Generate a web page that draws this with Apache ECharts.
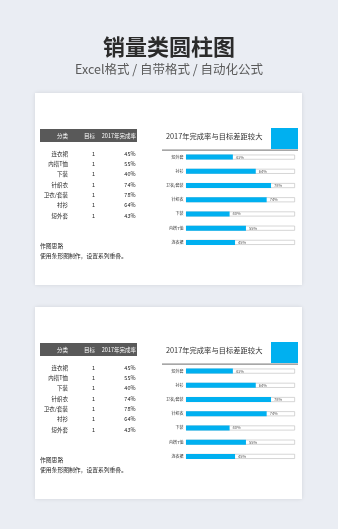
<!DOCTYPE html>
<html><head><meta charset="utf-8">
<script src="https://cdn.jsdelivr.net/npm/echarts@6/dist/echarts.min.js"></script>
<style>html,body{margin:0;padding:0;background:#eaedf3}#c{width:338px;height:529px}</style>
</head><body><div id="c"></div>
<script>
var mainTitle = '销量类圆柱图';
var subTitle = 'Excel格式 / 自带格式 / 自动化公式';
var chartTitle = '2017年完成率与目标差距较大';
var headers = ['分类', '目标', '2017年完成率'];
var categories = ['连衣裙', '内搭T恤', '下装', '针织衣', '卫衣/套装', '衬衫', '短外套'];
var targets = [1, 1, 1, 1, 1, 1, 1];
var rates = [0.45, 0.55, 0.40, 0.74, 0.78, 0.64, 0.43];
var noteTitle = '作图思路';
var noteText = '使用条形图制作，设置系列重叠。';

var FONT = '"Noto Sans CJK SC", "Noto Sans", sans-serif';
var BLUE = '#00b0f0';
var panelOffsets = [0, 214];

var graphics = [
  {type:'text', z:1, style:{text:mainTitle, x:169, y:47, textAlign:'center', textVerticalAlign:'middle', fill:'#2b2b2b', font:'bold 22px ' + FONT}},
  {type:'text', z:1, style:{text:subTitle, x:169, y:69.5, textAlign:'center', textVerticalAlign:'middle', fill:'#5a5a5a', font:'12.5px ' + FONT}}
];
var grids = [], xAxes = [], yAxes = [], series = [];

panelOffsets.forEach(function (dy, k) {
  graphics.push({type:'rect', z:0, shape:{x:35, y:93 + dy, width:267, height:192},
    style:{fill:'#ffffff', shadowBlur:4, shadowColor:'rgba(0,0,0,0.10)'}});
  // table header
  graphics.push({type:'rect', z:1, shape:{x:40, y:129 + dy, width:97, height:13}, style:{fill:'#595959'}});
  var hx = [68, 89.5, 136], ha = ['right', 'center', 'right'];
  headers.forEach(function (h, i) {
    graphics.push({type:'text', z:2, style:{text:h, x:hx[i], y:135.5 + dy, textAlign:ha[i], textVerticalAlign:'middle', fill:'#ffffff', font:'5.5px ' + FONT}});
  });
  categories.forEach(function (c, i) {
    var y = 153.5 + i * 10.35 + dy;
    graphics.push({type:'text', z:2, style:{text:c, x:68, y:y, textAlign:'right', textVerticalAlign:'middle', fill:'#222', font:'5.5px ' + FONT}});
    graphics.push({type:'text', z:2, style:{text:String(targets[i]), x:93.5, y:y, textAlign:'center', textVerticalAlign:'middle', fill:'#222', font:'5.5px ' + FONT}});
    graphics.push({type:'text', z:2, style:{text:Math.round(rates[i] * 100) + '%', x:135.5, y:y, textAlign:'right', textVerticalAlign:'middle', fill:'#222', font:'5.5px ' + FONT}});
  });
  graphics.push({type:'text', z:2, style:{text:noteTitle, x:40, y:246 + dy, textAlign:'left', textVerticalAlign:'middle', fill:'#222', font:'5.8px ' + FONT}});
  graphics.push({type:'text', z:2, style:{text:noteText, x:40, y:256 + dy, textAlign:'left', textVerticalAlign:'middle', fill:'#222', font:'5.8px ' + FONT}});
  // chart title block
  graphics.push({type:'text', z:2, style:{text:chartTitle, x:166, y:136.5 + dy, textAlign:'left', textVerticalAlign:'middle', fill:'#333', font:'7.3px ' + FONT}});
  graphics.push({type:'rect', z:2, shape:{x:271, y:128 + dy, width:27, height:21}, style:{fill:BLUE}});
  graphics.push({type:'rect', z:2, shape:{x:162, y:149.5 + dy, width:136, height:1.3}, style:{fill:'#8a8a8a'}});

  grids.push({left:186, right:43, top:150 + dy, height:99.5, containLabel:false});
  xAxes.push({gridIndex:k, type:'value', min:0, max:1, show:false});
  yAxes.push({gridIndex:k, type:'category', data:categories,
    axisLine:{show:false}, axisTick:{show:false}, splitLine:{show:false},
    axisLabel:{fontSize:4, color:'#333', margin:2.5, fontFamily:FONT}});
  series.push({type:'bar', xAxisIndex:k, yAxisIndex:k, data:targets, barWidth:5, barGap:'-100%',
    itemStyle:{color:'#ffffff', borderColor:'#c4c4c4', borderWidth:0.7}, silent:true, z:2});
  series.push({type:'bar', xAxisIndex:k, yAxisIndex:k, data:rates, barWidth:5, barGap:'-100%',
    itemStyle:{color:BLUE}, z:3,
    label:{show:true, position:'right', distance:3, fontSize:4, color:'#555', fontFamily:FONT,
      formatter:function (p) { return Math.round(p.value * 100) + '%'; }}});
});

var chart = echarts.init(document.getElementById('c'), null, {renderer:'canvas'});
chart.setOption({
  backgroundColor:'#eaedf3',
  animation:false,
  graphic:{elements:graphics},
  grid:grids, xAxis:xAxes, yAxis:yAxes, series:series
});
</script></body></html>
